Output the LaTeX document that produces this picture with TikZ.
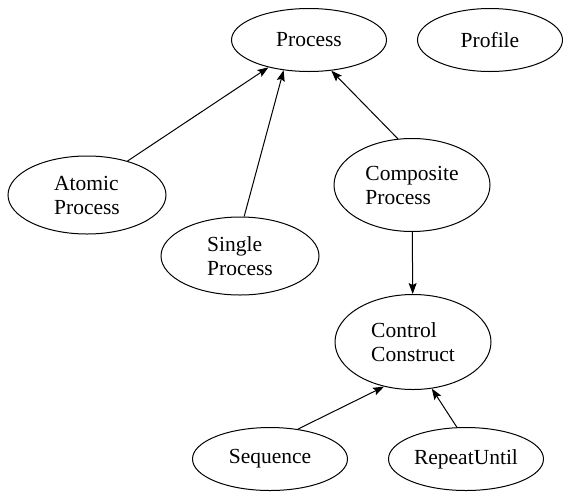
\documentclass[tikz,border=0pt]{standalone}
\usepackage{fontspec}
\setmainfont{Liberation Serif}
\usetikzlibrary{shapes.geometric,arrows.meta}
\begin{document}
\begin{tikzpicture}[x=1pt,y=-1pt,
  ell/.style={draw, ellipse, inner sep=0pt, line width=1pt,
    font=\fontsize{21.5}{24}\selectfont, align=left},
  small/.style={minimum width=155pt, minimum height=63pt},
  big/.style={minimum width=158pt, minimum height=78pt},
  huge/.style={minimum width=156pt, minimum height=93pt},
  conn/.style={line width=1pt, -{Stealth[length=11pt,width=8pt,inset=2pt]}}]
\useasboundingbox (0,0) rectangle (567,496);
\node[ell,small] (process) at (309,40) {Process};
\node[ell,small,minimum width=145pt] (profile) at (490,40) {Profile};
\node[ell,big] (atomic) at (87,195) {Atomic\\Process};
\node[ell,big] (single) at (240,256) {Single\\Process};
\node[ell,huge] (composite) at (412,185) {Composite\\Process};
\node[ell,huge,minimum height=95pt] (control) at (413,342) {Control\\Construct};
\node[ell,small] (sequence) at (270,459) {Sequence};
\node[ell,small] (repeat) at (466,459) {RepeatUntil};
\draw[conn] (atomic.40) -- (process.214);
\draw[conn] (single.84) -- (process.230);
\draw[conn] (composite.107) -- (process.306);
\draw[conn] (composite) -- (control);
\draw[conn] (sequence.47) -- (control.237);
\draw[conn] (repeat.106) -- (control.292);
\end{tikzpicture}
\end{document}
